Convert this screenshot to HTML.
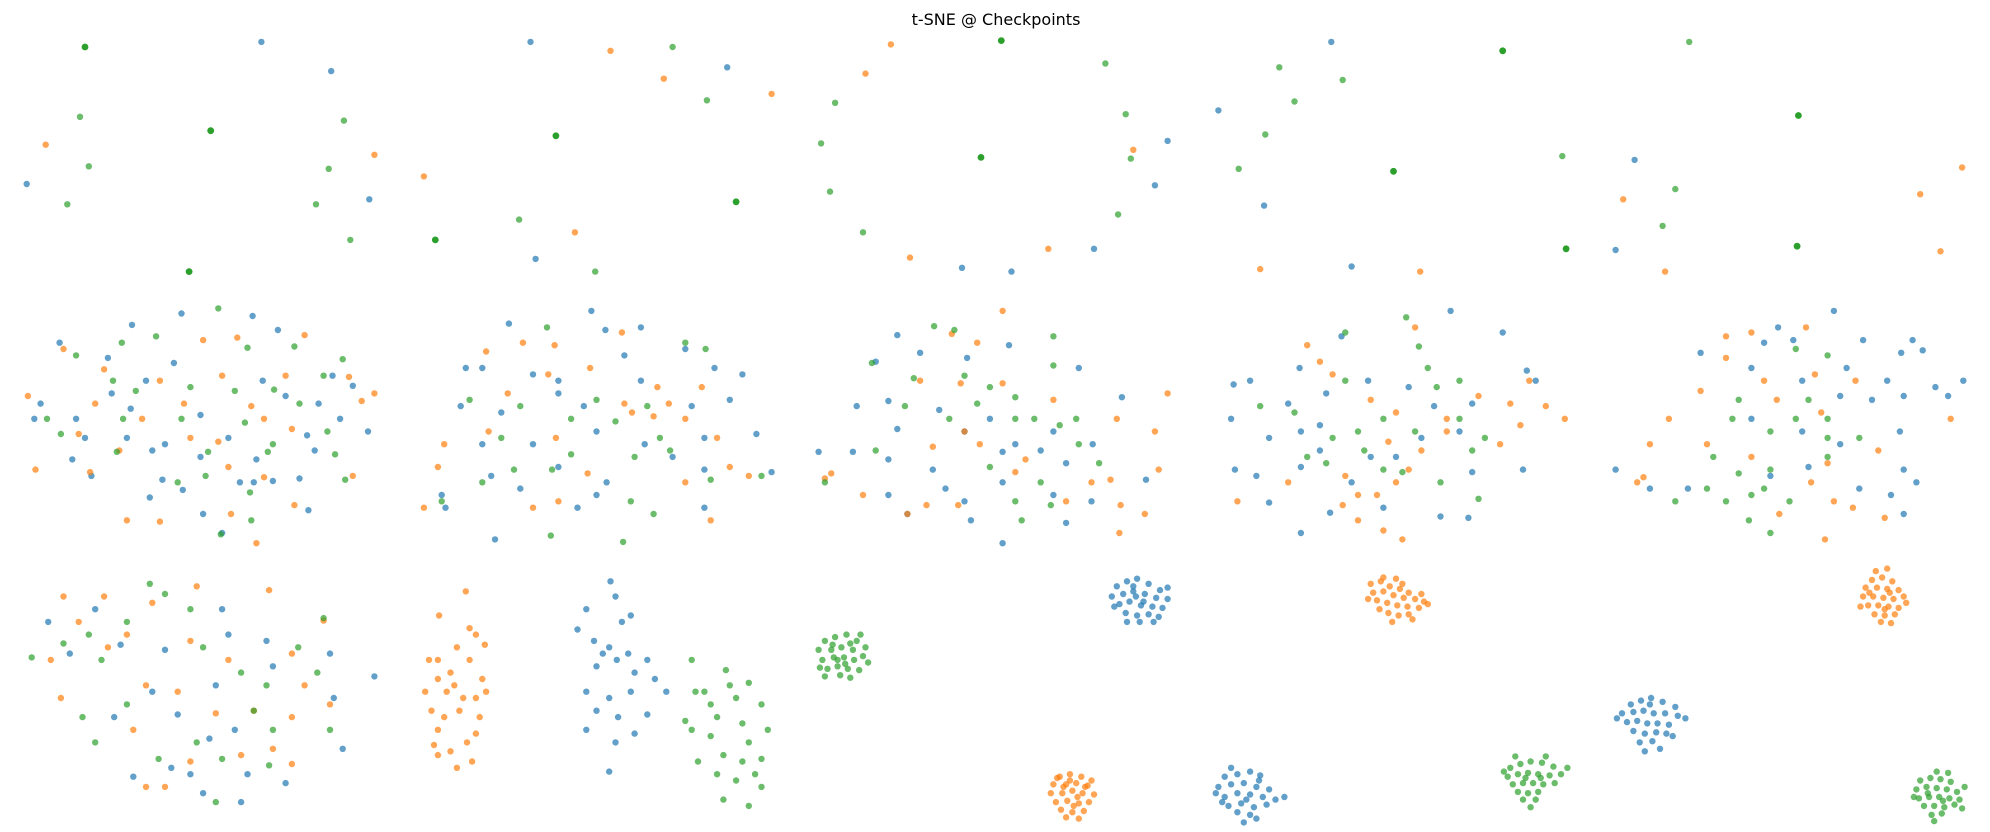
<!DOCTYPE html>
<html><head><meta charset="utf-8"><style>
html,body{margin:0;padding:0;background:#fff;width:1990px;height:832px;overflow:hidden}
svg{display:block}
</style></head><body>
<svg id="chart" width="1990" height="832" xmlns="http://www.w3.org/2000/svg">
<text x="996" y="25" text-anchor="middle" font-family="DejaVu Sans, Liberation Sans, sans-serif" font-size="16" fill="#000">t-SNE @ Checkpoints</text>
<g id="marks"></g>
</svg>
<script>
// t-SNE coordinates in reference units (plot space 1568 x 655)
const p1_blue=[206,33,261,56,21,145,291,157,47,270,104,256,143,247,199,249,219,260,85,282,137,286,207,300,262,296,278,304,32,318,103,322,158,327,225,312,251,318,27,330,60,330,100,345,130,350,180,345,242,343,268,330,290,340,57,362,120,355,158,360,202,362,248,355,72,375,128,378,189,380,236,377,118,392,144,386,215,379,160,405,243,402,200,380,175,420,67,345,88,310,115,300];
const p1_orange=[36,114,295,122,50,275,160,268,187,266,240,264,82,291,126,300,175,296,225,296,275,297,22,312,75,318,145,318,198,320,285,316,295,310,62,342,150,345,172,348,208,330,230,338,28,370,71,372,180,368,208,376,100,410,126,411,182,405,232,398,202,428,278,375,112,330,94,355];
const p1_green=[63,92,271,95,70,131,259,133,53,161,249,161,276,189,60,280,96,270,123,265,172,243,195,274,232,273,270,283,89,300,150,305,185,308,216,307,255,296,37,330,48,342,97,330,143,330,193,333,215,350,258,340,92,356,164,356,211,356,264,358,140,380,162,375,197,388,272,378,198,410,174,421,107,308,236,318];
const p2_blue=[418,33,573,53,422,204,401,255,466,245,477,260,505,258,367,290,380,290,420,295,440,310,492,280,540,275,563,290,585,295,363,320,395,325,440,300,460,320,505,300,545,320,575,315,380,350,420,350,470,340,508,350,555,345,596,342,387,375,440,368,478,380,530,360,555,370,348,390,410,385,470,390,455,400,555,400,390,425,351,400,608,372];
const p2_orange=[481,40,523,62,608,74,334,139,453,183,383,277,412,270,437,272,490,262,432,295,465,290,400,310,492,318,518,305,553,305,350,350,385,340,438,345,498,325,515,328,540,330,565,345,575,368,540,380,345,368,420,400,440,395,334,400,463,373,527,318,590,375,560,410];
const p2_green=[530,37,557,79,409,173,469,214,431,258,540,270,556,275,370,315,395,345,410,320,450,330,470,315,485,332,510,320,520,345,380,380,405,370,435,370,450,358,500,360,528,355,560,378,600,375,497,395,515,405,491,427,434,422,348,395];
const p3_blue=[920,111,910,146,758,211,797,214,862,196,707,264,690,285,725,278,762,282,795,272,850,290,884,313,675,320,700,316,740,323,780,330,830,340,707,338,760,340,800,350,861,350,645,356,672,356,700,362,735,370,790,356,840,365,903,378,700,390,745,385,790,380,830,390,860,395,715,405,765,410,840,412,790,428,760,395,820,355];
const p3_orange=[702,35,682,58,893,118,717,203,826,196,750,263,770,270,790,245,725,300,757,302,790,302,830,315,920,310,735,352,760,340,772,350,808,362,880,330,910,340,650,377,655,373,680,390,715,405,755,398,800,372,875,378,913,370,883,398,902,405,882,420,840,395,730,398,860,380];
const p3_green=[871,50,887,90,658,81,647,113,891,125,654,151,881,169,680,183,736,257,752,260,830,265,830,288,687,286,720,298,760,296,780,305,800,313,815,330,848,330,713,320,770,318,748,330,800,330,835,335,850,350,780,368,820,380,800,395,828,398,650,380,690,355,866,365,805,410];
const p4_blue=[1049,33,960,87,996,162,1065,210,1143,245,1057,265,1184,262,1203,292,1024,290,985,300,972,303,1015,318,1045,310,1078,300,1110,305,1040,335,1130,320,1160,318,1210,300,970,330,1000,345,1025,340,1040,355,1080,360,1120,345,1150,340,973,370,990,375,1025,368,1065,380,1100,360,1160,372,1200,370,1000,396,1048,404,1090,400,1135,407,1157,408,1025,420];
const p4_orange=[993,212,1119,214,1115,258,1030,272,1040,285,1050,295,1080,315,1100,325,1140,330,1165,312,1190,318,1205,300,1218,320,1233,330,1198,335,1182,350,1120,355,1094,348,1015,380,1060,375,1070,390,1085,390,1100,380,1110,370,975,395,1070,410,1090,418,1105,425,1140,340,1058,398];
const p4_green=[1008,53,1058,63,1020,80,997,106,1231,123,976,133,1108,250,1118,273,1060,262,1125,290,1132,305,1150,300,1060,300,1150,330,1170,345,1160,355,1115,340,1090,330,1070,340,1050,345,1020,325,993,320,1075,355,1045,365,1090,370,1135,380,1165,393,1105,372,1030,360];
const p5_blue=[1288,126,1273,197,1401,258,1445,245,1413,268,1390,270,1468,268,1507,268,1515,276,1498,278,1340,278,1380,290,1420,300,1455,290,1487,300,1525,305,1547,300,1535,312,1500,312,1475,315,1450,312,1380,330,1420,340,1450,350,1497,340,1273,370,1300,385,1330,385,1395,375,1425,368,1465,385,1500,370,1490,390,1500,405,1510,380];
const p5_orange=[1279,157,1513,153,1312,214,1529,198,1546,132,1360,265,1380,262,1423,258,1360,282,1390,300,1430,295,1462,300,1340,308,1400,315,1435,325,1315,330,1345,350,1380,360,1440,365,1300,350,1290,380,1295,376,1427,380,1445,395,1460,400,1485,408,1402,405,1438,425,1480,355,1537,330];
const p5_green=[1331,33,1320,149,1310,178,1415,275,1440,280,1425,315,1415,330,1440,330,1370,315,1395,340,1365,330,1350,360,1370,373,1390,385,1410,395,1440,360,1380,390,1360,395,1395,370,1345,385,1320,395,1378,410,1395,420,1465,345,1440,345];
const p6_blue=[38,490,55,515,75,480,95,508,130,512,175,480,180,500,210,505,260,515,295,533,120,545,170,540,215,525,140,563,90,565,165,582,185,575,135,605,150,610,105,612,195,610,160,625,270,590,225,617,263,550,190,632];
const p6_orange=[50,470,82,470,120,475,212,465,48,550,62,490,85,510,100,500,150,505,180,520,230,515,240,540,115,540,140,545,170,562,200,560,230,565,260,555,40,520,105,575,190,595,215,590,115,620,130,620,150,600,230,602,255,489,155,462];
const p6_green=[118,460,130,468,25,518,50,507,70,500,100,490,150,480,160,510,190,530,235,510,210,540,80,520,100,555,65,565,75,585,250,530,260,575,215,575,200,560,155,585,175,598,212,603,125,598,170,632,255,487];
const p7_orange=[367,466,346,485,370,495,375,500,345,520,370,520,345,535,380,535,358,540,375,550,340,560,362,560,378,565,345,575,368,585,355,592,345,595,372,600,335,545,360,510,382,508,338,520,355,530,375,578,360,605,352,545,383,545,342,587,365,550,350,565];
const p7_blue=[481,458,485,470,462,480,490,490,497,485,455,496,468,505,480,510,495,515,510,520,470,525,486,520,500,530,516,535,462,545,480,550,497,545,470,560,487,565,510,563,462,575,485,585,500,578,480,608,525,545,475,515];
const p7_green=[545,520,572,528,590,538,555,545,580,550,600,555,565,565,585,570,605,575,545,575,560,580,590,585,570,595,550,600,585,600,600,598,565,610,580,615,600,620,570,630,590,635,540,568,548,545,575,540,560,555,595,610];
const p8_green=[650,505,658,502,667,500,675,505,682,510,645,512,655,512,663,510,672,512,680,517,648,520,657,518,665,518,673,520,684,522,652,527,660,525,668,527,677,528,650,533,662,532,670,534,656,508,670,507,660,520,666,523,646,526,678,500];
const p8_blue=[880,462,888,458,896,456,905,460,914,465,876,470,885,468,893,466,902,468,911,471,920,472,882,476,890,474,899,477,908,478,916,479,887,483,896,485,905,484,913,486,893,462,901,474,878,478,920,463,898,490,909,490,888,490,895,470];
const p8_orange=[835,612,843,610,852,612,830,618,840,618,848,617,857,619,828,625,837,625,845,623,853,625,862,626,832,632,841,631,850,633,858,632,836,638,845,640,854,639,843,615,849,628,833,613,860,615,840,644,850,645,838,620,855,620,846,635];
const p9_orange=[1080,460,1088,458,1095,462,1103,464,1110,467,1082,467,1090,466,1098,469,1106,471,1115,472,1122,474,1085,473,1093,475,1101,477,1109,478,1118,479,1125,476,1094,483,1102,485,1110,484,1090,455,1100,456,1078,472,1097,490,1113,488,1087,480,1120,468,1105,460];
const p9_blue=[965,612,975,610,985,608,993,611,960,620,970,618,980,617,990,620,1000,622,1012,628,965,628,975,625,985,626,995,628,968,635,978,633,988,636,998,634,975,640,985,642,970,605,982,630,992,615,958,625,1005,630,980,648,990,645,963,632];
const p9_green=[1190,605,1198,602,1206,600,1215,601,1224,604,1188,612,1196,610,1204,609,1212,610,1221,611,1230,610,1192,618,1200,617,1208,617,1216,618,1225,617,1196,624,1204,625,1212,624,1200,630,1210,630,1185,608,1235,605,1218,596,1194,596,1206,636,1214,613,1202,613];
const p10_orange=[1475,457,1483,455,1491,458,1470,463,1479,463,1487,464,1496,465,1468,470,1476,470,1484,471,1492,472,1500,470,1472,477,1480,477,1488,478,1496,479,1477,484,1485,485,1493,484,1482,490,1490,491,1502,475,1466,478,1478,450,1487,448,1473,467,1489,467,1485,480];
const p10_blue=[1285,555,1293,552,1301,550,1310,553,1320,557,1278,562,1287,561,1295,560,1303,562,1312,562,1322,564,1282,569,1290,568,1298,570,1306,570,1315,571,1287,576,1296,578,1305,577,1313,578,1292,585,1302,584,1274,566,1328,566,1300,555,1308,590,1318,580,1296,592];
const p10_green=[1513,615,1521,613,1529,614,1537,616,1510,622,1518,620,1526,621,1534,622,1542,624,1512,629,1520,628,1528,628,1536,629,1544,630,1516,635,1524,635,1532,636,1540,634,1522,642,1530,641,1548,620,1508,628,1526,608,1535,609,1519,625,1531,631,1524,647,1546,637];
// overlapping duplicate points (rendered opaque)
const darkGreen=[67,37,166,103,149,214,438,107,343,189,580,159,789,32,773,124,1184,40,1098,135,1234,196,1417,91,1416,194];

const S=1990/1568;
const xScale=v=>v*S;
const yScale=v=>v*S;
const COLORS={blue:'#1f77b4',orange:'#ff7f0e',green:'#2ca02c'};
const series=[
 ['blue',p1_blue],['orange',p1_orange],['green',p1_green],
 ['blue',p2_blue],['orange',p2_orange],['green',p2_green],
 ['blue',p3_blue],['orange',p3_orange],['green',p3_green],
 ['blue',p4_blue],['orange',p4_orange],['green',p4_green],
 ['blue',p5_blue],['orange',p5_orange],['green',p5_green],
 ['blue',p6_blue],['orange',p6_orange],['green',p6_green],
 ['orange',p7_orange],['blue',p7_blue],['green',p7_green],
 ['green',p8_green],['blue',p8_blue],['orange',p8_orange],
 ['orange',p9_orange],['blue',p9_blue],['green',p9_green],
 ['orange',p10_orange],['blue',p10_blue],['green',p10_green]
];
const g=document.getElementById('marks');
const NS='http://www.w3.org/2000/svg';
series.forEach(([col,arr])=>{
  for(let i=0;i<arr.length;i+=2){
    const c=document.createElementNS(NS,'circle');
    c.setAttribute('cx',xScale(arr[i]).toFixed(1));
    c.setAttribute('cy',yScale(arr[i+1]).toFixed(1));
    c.setAttribute('r','3.2');
    c.setAttribute('fill',COLORS[col]);
    c.setAttribute('fill-opacity','0.7');
    
    
    g.appendChild(c);
  }
});
for(let i=0;i<darkGreen.length;i+=2){
  const c=document.createElementNS(NS,'circle');
  c.setAttribute('cx',xScale(darkGreen[i]).toFixed(1));
  c.setAttribute('cy',yScale(darkGreen[i+1]).toFixed(1));
  c.setAttribute('r','3.4');
  c.setAttribute('fill','#2ca02c');
  
  
  g.appendChild(c);
}
</script>
</body></html>
